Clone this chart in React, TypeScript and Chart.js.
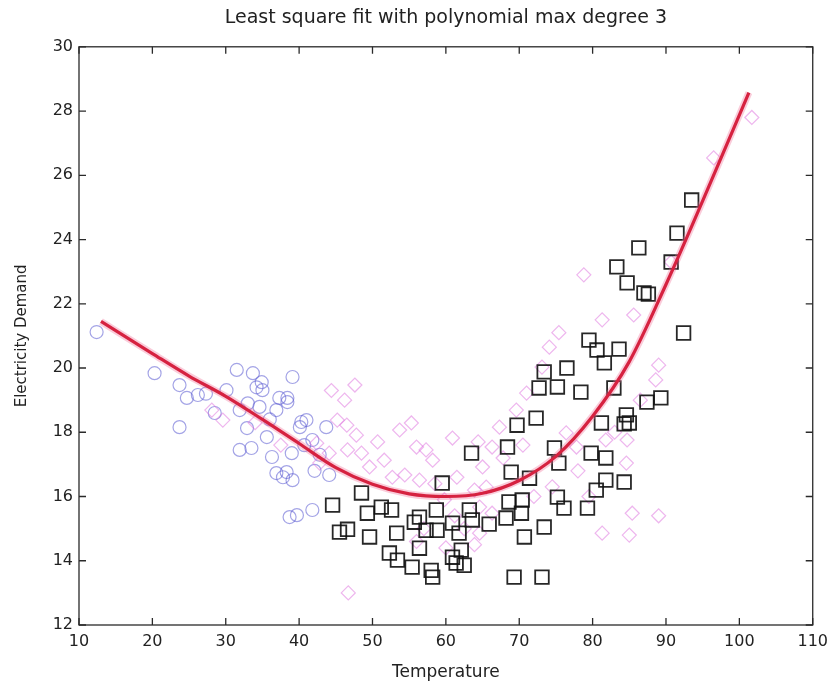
import { useEffect, useRef } from "react";
import { Chart, registerables } from "chart.js";

Chart.register(...registerables);

const titleText = "Least square fit with polynomial max degree 3";
const xTitleText = "Temperature";
const yTitleText = "Electricity Demand";

const xTickValues = [10, 20, 30, 40, 50, 60, 70, 80, 90, 100, 110];
const yTickValues = [12, 14, 16, 18, 20, 22, 24, 26, 28, 30];

// Blue circles (cold days)
const blueX = [12.4, 20.3, 23.7, 24.7, 23.7, 26.2, 28.5, 31.5, 33.7, 34.9, 35.0, 37.3, 38.4, 39.1, 30.1, 31.9, 34.6, 36.9, 31.9, 33.5, 36.3, 36.9, 37.8, 39.0, 39.1, 35.6, 32.9, 38.7, 39.7, 41.8, 40.1, 41.0, 41.8, 43.7, 38.4, 40.3, 38.3, 40.7, 42.8, 42.1, 44.1, 34.2, 36.0, 33.0, 27.3];
const blueY = [21.12, 19.84, 19.47, 19.07, 18.16, 19.16, 18.6, 19.94, 19.84, 19.56, 19.31, 19.07, 19.07, 19.72, 19.31, 18.69, 18.79, 18.69, 17.45, 17.51, 17.23, 16.73, 16.6, 17.35, 16.51, 17.85, 18.13, 15.36, 15.42, 15.58, 18.16, 18.38, 17.76, 18.16, 18.94, 18.32, 16.76, 17.6, 17.3, 16.8, 16.67, 19.4, 18.4, 18.9, 19.2];

// Magenta diamonds
const magentaX = [44.4, 45.2, 46.5, 47.8, 48.5, 49.6, 50.7, 53.7, 55.3, 56.0, 57.3, 58.2, 60.9, 52.7, 42.8, 44.1, 46.6, 42.4, 46.7, 64.4, 78.8, 81.3, 85.6, 89.0, 88.6, 84.6, 84.7, 96.5, 101.7, 85.0, 89.0, 75.4, 74.1, 73.1, 71.0, 69.6, 67.3, 66.3, 65.0, 65.5, 64.6, 66.3, 64.6, 76.4, 77.8, 81.8, 81.3, 85.4, 59.8, 61.2, 63.9, 29.6, 28.1, 46.2, 47.6, 51.6, 54.4, 56.4, 63.9, 57.0, 60.0, 62.5, 56.0, 72.0, 74.5, 78.0, 79.5, 86.5, 83.0, 90.7, 34.0, 37.5, 58.5, 61.5, 67.8, 70.5];
const magentaY = [19.3, 18.38, 18.22, 17.91, 17.35, 16.92, 17.7, 18.07, 18.29, 17.54, 17.45, 17.13, 17.82, 16.6, 17.04, 17.35, 17.45, 17.66, 13.0, 17.7, 22.9, 21.5, 21.65, 20.09, 19.63, 17.04, 17.76, 26.54, 27.8, 14.8, 15.4, 21.1, 20.65, 20.03, 19.22, 18.69, 18.16, 17.54, 16.92, 16.29, 15.67, 15.48, 14.86, 17.98, 17.54, 17.76, 14.86, 15.48, 15.9, 15.4, 14.5, 18.38, 18.69, 19.0, 19.47, 17.13, 16.67, 16.51, 16.2, 15.0, 14.4, 15.0, 14.6, 16.0, 16.3, 16.8, 16.0, 19.0, 18.0, 23.3, 18.3, 17.6, 16.4, 16.6, 17.2, 17.6];

// Black squares
const blackX = [44.56, 45.5, 46.6, 49.6, 49.3, 51.2, 48.5, 52.6, 53.3, 55.7, 56.4, 57.3, 58.7, 58.8, 59.5, 63.5, 60.9, 61.8, 62.1, 52.3, 53.4, 56.4, 55.4, 58.0, 58.2, 60.9, 61.4, 62.5, 63.2, 63.6, 79.5, 80.6, 83.6, 81.6, 76.5, 73.4, 72.7, 75.2, 78.4, 69.7, 72.3, 81.2, 84.6, 84.3, 68.4, 74.8, 75.4, 79.8, 81.8, 81.8, 84.3, 80.5, 68.9, 71.4, 75.2, 76.1, 79.3, 70.4, 68.6, 68.2, 70.3, 73.4, 70.7, 65.9, 69.3, 73.1, 93.5, 91.5, 86.3, 83.3, 84.7, 87.0, 87.6, 90.7, 92.4, 82.9, 87.4, 89.3, 85.0];
const blackY = [15.73, 14.89, 14.98, 14.74, 15.48, 15.67, 16.11, 15.58, 14.86, 15.2, 15.36, 14.95, 15.58, 14.95, 16.42, 17.35, 15.17, 14.86, 14.33, 14.24, 14.02, 14.39, 13.8, 13.7, 13.49, 14.11, 13.93, 13.86, 15.58, 15.27, 20.87, 20.56, 20.59, 20.16, 20.0, 19.88, 19.38, 19.41, 19.25, 18.22, 18.44, 18.29, 18.54, 18.26, 17.54, 17.51, 17.04, 17.35, 17.2, 16.51, 16.45, 16.2, 16.76, 16.57, 15.98, 15.64, 15.64, 15.89, 15.83, 15.33, 15.48, 15.05, 14.74, 15.14, 13.49, 13.49, 25.23, 24.2, 23.74, 23.15, 22.65, 22.34, 22.3, 23.3, 21.09, 19.38, 18.94, 19.07, 18.29];

// Fitted curve
const fitX = [13, 20, 25, 30, 35, 40, 45, 50, 55, 60, 65, 70, 75, 80, 85, 90, 95, 101.3];
const fitY = [21.45, 20.45, 19.75, 19.12, 18.4, 17.65, 16.9, 16.38, 16.08, 16.0, 16.1, 16.5, 17.25, 18.5, 20.2, 22.6, 25.2, 28.57];

const toPoints = (xs: number[], ys: number[]) => xs.map((x, i) => ({ x, y: ys[i] }));

const FONT = "'DejaVu Sans', 'Liberation Sans', sans-serif";

const framePlugin = {
  id: "matlabFrame",
  afterDatasetsDraw(chart: any) {
    const { ctx, chartArea } = chart;
    const xs = chart.scales.x;
    const ys = chart.scales.y;
    const { left, right, top, bottom } = chartArea;
    const len = 7;
    ctx.save();
    ctx.strokeStyle = "#2a2a2a";
    ctx.lineWidth = 1.3;
    ctx.strokeRect(left, top, right - left, bottom - top);
    ctx.beginPath();
    xTickValues.forEach((v) => {
      const px = xs.getPixelForValue(v);
      ctx.moveTo(px, bottom);
      ctx.lineTo(px, bottom - len);
      ctx.moveTo(px, top);
      ctx.lineTo(px, top + len);
    });
    yTickValues.forEach((v) => {
      const py = ys.getPixelForValue(v);
      ctx.moveTo(left, py);
      ctx.lineTo(left + len, py);
      ctx.moveTo(right, py);
      ctx.lineTo(right - len, py);
    });
    ctx.stroke();
    ctx.restore();
  },
};

export default function App() {
  const canvasRef = useRef<HTMLCanvasElement | null>(null);

  useEffect(() => {
    document.body.style.margin = "0";
    const canvas = canvasRef.current;
    if (!canvas) return;
    const chart = new Chart(canvas, {
      type: "scatter",
      data: {
        datasets: [
          {
            type: "line",
            label: "fit",
            data: toPoints(fitX, fitY),
            borderColor: "rgb(214, 34, 64)",
            borderWidth: 3.2,
            pointRadius: 0,
            cubicInterpolationMode: "monotone",
            fill: false,
            order: 0,
          } as any,
          {
            type: "line",
            label: "fit glow",
            data: toPoints(fitX, fitY),
            borderColor: "rgba(240, 110, 150, 0.35)",
            borderWidth: 7,
            pointRadius: 0,
            cubicInterpolationMode: "monotone",
            fill: false,
            order: 1,
          } as any,
          {
            label: "black",
            data: toPoints(blackX, blackY),
            pointStyle: "rect",
            pointRadius: 9.6,
            borderColor: "rgba(15,15,15,0.9)",
            backgroundColor: "rgba(0,0,0,0)",
            borderWidth: 1.8,
            order: 2,
          },
          {
            label: "magenta",
            data: toPoints(magentaX, magentaY),
            pointStyle: "rectRot",
            pointRadius: 7,
            borderColor: "rgba(222,110,222,0.5)",
            backgroundColor: "rgba(0,0,0,0)",
            borderWidth: 1.2,
            order: 3,
          },
          {
            label: "blue",
            data: toPoints(blueX, blueY),
            pointStyle: "circle",
            pointRadius: 6.5,
            borderColor: "rgba(90,90,210,0.55)",
            backgroundColor: "rgba(0,0,0,0)",
            borderWidth: 1.2,
            order: 4,
          },
        ],
      },
      options: {
        responsive: false,
        animation: false,
        devicePixelRatio: 1,
        layout: { padding: { left: 0, right: 21, top: 0, bottom: 0 } },
        plugins: {
          legend: { display: false },
          tooltip: { enabled: false },
          title: {
            display: true,
            text: titleText,
            fullSize: false,
            color: "#222",
            font: { family: FONT, size: 19, weight: "normal" },
            padding: { top: 7, bottom: 17 },
          },
        },
        scales: {
          x: {
            type: "linear",
            min: 10,
            max: 110,
            afterBuildTicks: (s: any) => {
              s.ticks = xTickValues.map((v) => ({ value: v }));
            },
            afterFit: (s: any) => {
              s.height = 58;
            },
            grid: { display: false, drawTicks: false },
            border: { display: false },
            ticks: {
              color: "#222",
              padding: 7,
              autoSkip: false,
              maxRotation: 0,
              font: { family: FONT, size: 16 },
            },
            title: {
              display: true,
              text: xTitleText,
              color: "#222",
              font: { family: FONT, size: 17 },
              padding: { top: 1, bottom: 0 },
            },
          },
          y: {
            type: "linear",
            min: 12,
            max: 30,
            afterBuildTicks: (s: any) => {
              s.ticks = yTickValues.map((v) => ({ value: v }));
            },
            afterFit: (s: any) => {
              s.width = 79;
            },
            grid: { display: false, drawTicks: false },
            border: { display: false },
            ticks: {
              color: "#222",
              padding: 6,
              autoSkip: false,
              font: { family: FONT, size: 16 },
            },
            title: {
              display: true,
              text: yTitleText,
              color: "#222",
              font: { family: FONT, size: 15 },
              padding: { top: 13, bottom: 0 },
            },
          },
        },
      },
      plugins: [framePlugin],
    } as any);
    return () => chart.destroy();
  }, []);

  return (
    <div style={{ width: 835, height: 683, background: "#fff" }}>
      <canvas ref={canvasRef} width={835} height={683} />
    </div>
  );
}
